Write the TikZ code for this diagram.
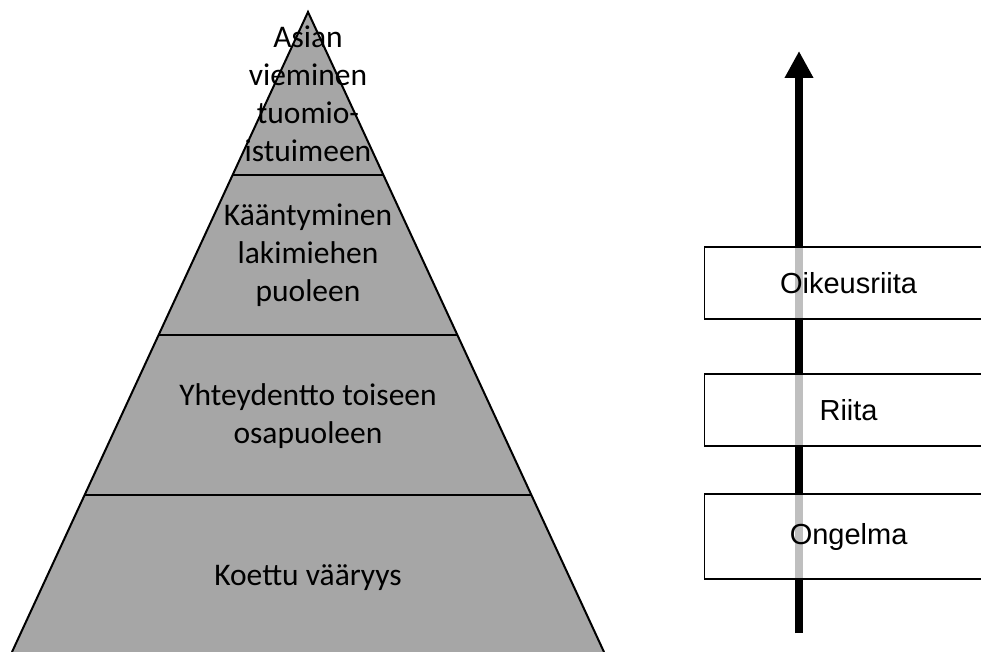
\documentclass[tikz,border=0pt]{standalone}
\usepackage{fontspec}
\usepackage{tikz}
\usetikzlibrary{arrows.meta,calc}
\newfontfamily\pyrfont{Carlito}
\newfontfamily\stagefont{Liberation Sans}
\definecolor{PyrGray}{RGB}{166,166,166}

\begin{document}
\begin{tikzpicture}[x=1pt,y=-1pt,
    level/.style={font=\pyrfont\fontsize{31.5}{38}\selectfont, align=center, inner sep=0pt},
    stagebox/.style={draw=black, line width=1.2pt, fill=white, fill opacity=0.75, text opacity=1,
      minimum width=288pt, anchor=west, inner sep=0pt,
      font=\stagefont\fontsize{29}{34}\selectfont}]
  \clip (0,0) rectangle (981,652);
  % pyramid
  \coordinate (apex) at (308,12);
  \coordinate (baseL) at (12,652);
  \coordinate (baseR) at (604,652);
  \fill[PyrGray] (apex) -- (baseL) -- (baseR) -- cycle;
  \draw[line width=2pt] (baseL) -- (apex) -- (baseR);
  \foreach \t in {0.2547,0.5047,0.7547}
    \draw[line width=2pt] ($(apex)!\t!(baseL)$) -- ($(apex)!\t!(baseR)$);
  \node[level] (court) at (308,94) {Asian\\vieminen\\tuomio-\\istuimeen};
  \node[level] (lawyer) at (308,255) {Kääntyminen\\lakimiehen\\puoleen};
  \node[level] (contact) at (308,416) {Yhteydentto toiseen\\osapuoleen};
  \node[level] (wrong) at (308,578) {Koettu vääryys};
  % arrow and stages
  \coordinate (arrowtail) at (799,633);
  \coordinate (arrowtip) at (799,51);
  \draw[line width=8pt, -{Triangle[width=27pt,length=27pt]}] (arrowtail) -- (arrowtip);
  \node[stagebox, minimum height=72pt] (legal) at (704,283) {Oikeusriita};
  \node[stagebox, minimum height=72pt] (dispute) at (704,410) {Riita};
  \node[stagebox, minimum height=85pt] (problem) at (704,536.5) {Ongelma};
\end{tikzpicture}
\end{document}
